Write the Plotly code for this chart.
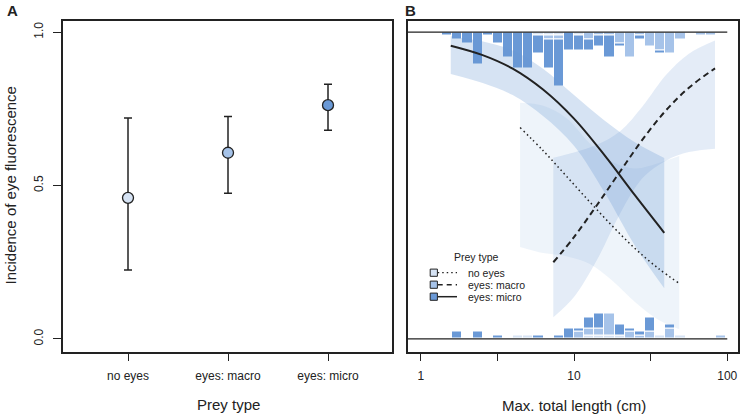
import numpy as np
import plotly.graph_objects as go

# ---------------- Panel A data ----------------
prey_types = ["no eyes", "eyes: macro", "eyes: micro"]
incidence = [0.46, 0.607, 0.762]
ci_low = [0.225, 0.475, 0.68]
ci_high = [0.72, 0.725, 0.83]

# ---------------- Panel B data ----------------
# histogram bins over max. total length (cm), log-spaced
bin_range_cm = [1.38, 98.2]
n_bins = 28
# counts of species with eye fluorescence (drawn down from y = 1)
top_noeyes = [0, 0, 0, 0, 0, 0, 0, 0, 0, 1, 1, 1, 0, 1, 0, 0, 0, 0, 0, 0, 0, 0, 0, 0, 0, 0, 0, 0]
top_macro  = [0, 0, 0, 0, 0, 0, 0, 0, 0, 0, 1, 1, 0, 0, 2, 1, 1, 3, 7, 1, 4, 5, 6, 2, 0, 1, 1, 0]
top_micro  = [1, 2, 3, 9, 1, 3, 7, 10, 10, 5, 8, 13, 5, 4, 3, 3, 6, 1, 0, 1, 0, 1, 0, 0, 0, 0, 0, 0]
# counts of species without eye fluorescence (drawn up from y = 0)
bot_noeyes = [0, 0, 0, 0, 0, 0, 0, 1, 1, 0, 0, 0, 0, 0, 1, 1, 1, 1, 0, 0, 0, 1, 0, 1, 0, 0, 0, 0]
bot_macro  = [0, 0, 0, 0, 0, 0, 0, 0, 0, 0, 0, 0, 0, 2, 2, 2, 6, 0, 2, 1, 2, 0, 3, 0, 0, 0, 0, 1]
bot_micro  = [0, 2, 0, 2, 0, 1, 0, 0, 0, 1, 0, 1, 3, 1, 3, 4, 0, 3, 1, 1, 4, 0, 1, 0, 0, 0, 0, 0]

# fitted probability curves with confidence bands
micro_len_cm = [1.57, 2.51, 3.98, 6.31, 10.0, 15.8, 25.1, 38.8]
micro_fit = [0.956, 0.926, 0.881, 0.812, 0.718, 0.599, 0.467, 0.346]
micro_lo = [0.864, 0.835, 0.795, 0.726, 0.630, 0.478, 0.302, 0.165]
micro_hi = [0.987, 0.970, 0.940, 0.880, 0.795, 0.712, 0.640, 0.590]

macro_len_cm = [7.33, 10.0, 14.1, 20.0, 28.2, 39.8, 56.2, 83.2]
macro_fit = [0.250, 0.332, 0.436, 0.546, 0.652, 0.745, 0.819, 0.882]
macro_lo = [0.071, 0.137, 0.257, 0.409, 0.526, 0.581, 0.609, 0.620]
macro_hi = [0.591, 0.608, 0.633, 0.677, 0.760, 0.860, 0.930, 0.973]

noeyes_len_cm = [4.45, 6.31, 8.91, 12.6, 17.8, 25.1, 35.5, 48.6]
noeyes_fit = [0.689, 0.613, 0.531, 0.448, 0.368, 0.294, 0.230, 0.181]
noeyes_lo = [0.300, 0.280, 0.270, 0.245, 0.190, 0.120, 0.0625, 0.032]
noeyes_hi = [0.770, 0.760, 0.720, 0.639, 0.577, 0.556, 0.573, 0.596]

x_ticks_cm = [1, 3.1623, 10, 31.623, 100]
x_ticklabels = ["1", "", "10", "", "100"]

# ---------------- style ----------------
W, H = 743, 416
FONT = "Liberation Sans, Arial, sans-serif"
INK = "#222222"
C_NOEYES = "#d6e3f4"
C_MACRO = "#a6c3e9"
C_MICRO = "#6a99d6"
COUNT_UNIT = 0.0118          # y-units per species in the marginal histograms
Y_RANGE = [-0.0415, 1.038]
XB_RANGE = [-0.083, 2.07]


def px_x(p):
    return p / W


def px_y(p):
    return 1 - p / H


fig = go.Figure()

# ---------------- Panel A ----------------
err_plus = [h - v for h, v in zip(ci_high, incidence)]
err_minus = [v - l for l, v in zip(ci_low, incidence)]
fig.add_trace(go.Scatter(
    x=prey_types, y=incidence, mode="markers",
    marker=dict(size=11, color=[C_NOEYES, C_MACRO, C_MICRO],
                line=dict(color=INK, width=1.3)),
    error_y=dict(type="data", symmetric=False, array=err_plus, arrayminus=err_minus,
                 color=INK, thickness=1.5, width=4),
    xaxis="x", yaxis="y", showlegend=False, cliponaxis=False))

# ---------------- Panel B ----------------
edges = np.linspace(np.log10(bin_range_cm[0]), np.log10(bin_range_cm[1]), n_bins + 1)
centers = (edges[:-1] + edges[1:]) / 2
bw = edges[1] - edges[0]


def band(len_cm, lo, hi, color):
    lx = np.log10(len_cm)
    fig.add_trace(go.Scatter(x=lx, y=lo, mode="lines", line=dict(width=0, shape="spline"),
                             xaxis="x2", yaxis="y2", showlegend=False, hoverinfo="skip"))
    fig.add_trace(go.Scatter(x=lx, y=hi, mode="lines", line=dict(width=0, shape="spline"),
                             fill="tonexty", fillcolor=color,
                             xaxis="x2", yaxis="y2", showlegend=False, hoverinfo="skip"))


band(noeyes_len_cm, noeyes_lo, noeyes_hi, "rgba(104,151,212,0.11)")
band(macro_len_cm, macro_lo, macro_hi, "rgba(104,151,212,0.18)")
band(micro_len_cm, micro_lo, micro_hi, "rgba(104,151,212,0.27)")


# stacked marginal histograms
def stacked(counts_list, colors, top):
    cum = np.zeros(n_bins)
    for counts, col in zip(counts_list, colors):
        h = np.array(counts, dtype=float) * COUNT_UNIT
        if top:
            base = 1 - cum
            yv = -h
        else:
            base = cum.copy()
            yv = h
        yv = [v if v != 0 else None for v in yv]
        fig.add_trace(go.Bar(x=centers, y=yv, base=base, width=bw,
                             marker=dict(color=col, line=dict(color="white", width=1)),
                             xaxis="x2", yaxis="y2", showlegend=False))
        cum = cum + h


stacked([top_noeyes, top_macro, top_micro], [C_NOEYES, C_MACRO, C_MICRO], True)
stacked([bot_noeyes, bot_macro, bot_micro], [C_NOEYES, C_MACRO, C_MICRO], False)

# reference lines at 0 and 1
for yv in (0, 1):
    fig.add_trace(go.Scatter(x=[XB_RANGE[0], np.log10(x_ticks_cm[-1])], y=[yv, yv], mode="lines",
                             line=dict(color=INK, width=1.3), xaxis="x2", yaxis="y2",
                             showlegend=False, hoverinfo="skip"))

# fitted curves
fig.add_trace(go.Scatter(x=np.log10(noeyes_len_cm), y=noeyes_fit, mode="lines",
                         line=dict(color=INK, width=1.5, dash="1.5px,3px", shape="spline"),
                         xaxis="x2", yaxis="y2", showlegend=False))
fig.add_trace(go.Scatter(x=np.log10(macro_len_cm), y=macro_fit, mode="lines",
                         line=dict(color=INK, width=2, dash="6px,4px", shape="spline"),
                         xaxis="x2", yaxis="y2", showlegend=False))
fig.add_trace(go.Scatter(x=np.log10(micro_len_cm), y=micro_fit, mode="lines",
                         line=dict(color=INK, width=2, shape="spline"),
                         xaxis="x2", yaxis="y2", showlegend=False))

# ---------------- axes ----------------
ydom = [px_y(351.7), px_y(20.5)]
axis_common = dict(showline=True, mirror=True, linecolor=INK, linewidth=1.5,
                   showgrid=False, zeroline=False,
                   tickfont=dict(family=FONT, size=12, color=INK))

fig.update_layout(
    width=W, height=H, margin=dict(l=0, r=0, t=0, b=0),
    paper_bgcolor="white", plot_bgcolor="white",
    barmode="overlay", bargap=0,
    font=dict(family=FONT, color=INK),
    xaxis=dict(domain=[px_x(63), px_x(392)], range=[-0.65, 2.64], type="category",
               ticks="outside", ticklen=8, tickwidth=1.3, tickcolor=INK,
               ticklabelstandoff=4, anchor="y", **axis_common),
    yaxis=dict(domain=ydom, range=Y_RANGE, tickvals=[0, 0.5, 1.0],
               ticktext=["0.0", "0.5", "1.0"], tickangle=-90,
               ticks="outside", ticklen=8, tickwidth=1.3, tickcolor=INK,
               ticklabelstandoff=5, anchor="x", **axis_common),
    xaxis2=dict(domain=[px_x(408), px_x(738)], range=XB_RANGE,
                tickvals=list(np.log10(x_ticks_cm)), ticktext=x_ticklabels,
                ticks="outside", ticklen=8, tickwidth=1.3, tickcolor=INK,
                ticklabelstandoff=4, anchor="y2", **axis_common),
    yaxis2=dict(domain=ydom, range=Y_RANGE, showticklabels=False, ticks="",
                anchor="x2", **axis_common),
)

# ---------------- text: titles, panel labels ----------------
ann = []
ann.append(dict(text="Incidence of eye fluorescence", x=px_x(9.5), y=px_y(186),
                textangle=-90, font=dict(size=15)))
ann.append(dict(text="Prey type", x=px_x(228), y=px_y(404), font=dict(size=15)))
ann.append(dict(text="Max. total length (cm)", x=px_x(574), y=px_y(405), font=dict(size=15)))
ann.append(dict(text="<b>A</b>", x=px_x(13), y=px_y(10), font=dict(size=15)))
ann.append(dict(text="<b>B</b>", x=px_x(410), y=px_y(10), font=dict(size=15)))

# legend (drawn inside panel B)
ann.append(dict(text="Prey type", x=px_x(452), y=px_y(256.7), xanchor="left", font=dict(size=10.5)))
legend_rows = [("no eyes", C_NOEYES, "1.5px,3px", 1.3),
               ("eyes: macro", C_MACRO, "5px,4px", 1.5),
               ("eyes: micro", C_MICRO, "solid", 1.5)]
shapes = []
for i, (lab, col, dash, lw) in enumerate(legend_rows):
    yc = 272.7 + 12 * i
    ann.append(dict(text=lab, x=px_x(465.7), y=px_y(yc), xanchor="left", font=dict(size=10.5)))
    shapes.append(dict(type="line", xref="paper", yref="paper",
                       x0=px_x(437.7), x1=px_x(457), y0=px_y(yc), y1=px_y(yc),
                       line=dict(color=INK, width=lw, dash=dash)))
    shapes.append(dict(type="rect", xref="paper", yref="paper",
                       x0=px_x(430.2), x1=px_x(437.4), y0=px_y(yc - 3.6), y1=px_y(yc + 3.6),
                       fillcolor=col, line=dict(color=INK, width=1)))

for a in ann:
    a.update(xref="paper", yref="paper", showarrow=False)
    a.setdefault("xanchor", "center")
    a.setdefault("yanchor", "middle")
    a["font"] = dict(family=FONT, color=INK, **a["font"])

fig.update_layout(annotations=ann, shapes=shapes)

fig.write_html("out.html", config={"displayModeBar": False},
               post_script="document.body.style.margin='0';document.body.style.overflow='hidden';")
